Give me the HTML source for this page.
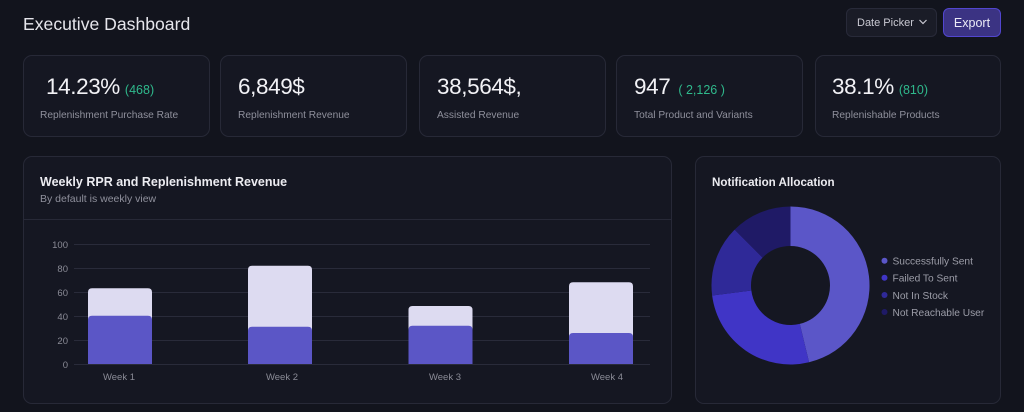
<!DOCTYPE html>
<html><head><meta charset="utf-8"><style>
*{margin:0;padding:0;box-sizing:border-box}
html,body{width:1024px;height:412px;overflow:hidden;background:#12141d;font-family:"Liberation Sans",sans-serif}
.abs{position:absolute}
.card{position:absolute;background:#151722;border:1px solid #272937;border-radius:9px}
.num{position:absolute;top:74px;font-size:22.5px;color:#f2f2f6;white-space:nowrap;letter-spacing:-0.4px}
.num span{font-size:12.5px;color:#2fb98c;margin-left:5px;letter-spacing:0}
.lbl{position:absolute;top:110px;font-size:10.2px;color:#8f909c;white-space:nowrap}
</style></head><body>
<div class="abs" style="left:23px;top:14px;font-size:17.6px;color:#e6e6ec;white-space:nowrap">Executive Dashboard</div>
<div class="abs" style="left:846px;top:8px;width:91px;height:29px;background:#1a1c27;border:1px solid #282a39;border-radius:6px"></div>
<div class="abs" style="left:857px;top:17px;font-size:11px;color:#c9c9d2;white-space:nowrap">Date Picker</div>
<svg class="abs" style="left:918px;top:18px" width="10" height="8"><path d="M1.5 2 L5 5.5 L8.5 2" fill="none" stroke="#c9c9d2" stroke-width="1.2"/></svg>
<div class="abs" style="left:943px;top:8px;width:58px;height:29px;background:#3b3383;border:1px solid #5246cf;border-radius:6px"></div>
<div class="abs" style="left:943px;top:16px;width:58px;text-align:center;font-size:12.5px;color:#ecebf7">Export</div>

<div class="card" style="left:23px;top:55px;width:187px;height:82px"></div>
<div class="card" style="left:220px;top:55px;width:187px;height:82px"></div>
<div class="card" style="left:419px;top:55px;width:187px;height:82px"></div>
<div class="card" style="left:616px;top:55px;width:187px;height:82px"></div>
<div class="card" style="left:815px;top:55px;width:186px;height:82px"></div>

<div class="num" style="left:46px">14.23%<span>(468)</span></div>
<div class="lbl" style="left:40px">Replenishment Purchase Rate</div>
<div class="num" style="left:238px">6,849$</div>
<div class="lbl" style="left:238px">Replenishment Revenue</div>
<div class="num" style="left:437px">38,564$,</div>
<div class="lbl" style="left:437px">Assisted Revenue</div>
<div class="num" style="left:634px">947<span style="margin-left:8px">( 2,126 )</span></div>
<div class="lbl" style="left:634px">Total Product and Variants</div>
<div class="num" style="left:832px">38.1%<span>(810)</span></div>
<div class="lbl" style="left:832px">Replenishable Products</div>

<div class="card" style="left:23px;top:156px;width:649px;height:248px"></div>
<div class="card" style="left:695px;top:156px;width:306px;height:248px"></div>

<svg class="abs" style="left:0;top:0" width="1024" height="412">
<line x1="24" y1="219.5" x2="671" y2="219.5" stroke="#272937" stroke-width="1"/>
<text x="40" y="186" font-size="12.5" font-weight="bold" fill="#ececf1" font-family="Liberation Sans">Weekly RPR and Replenishment Revenue</text>
<text x="40" y="202" font-size="10.5" fill="#8f909c" font-family="Liberation Sans">By default is weekly view</text>
<g stroke="#292b3a" stroke-width="1">
<line x1="74" y1="244.5" x2="650" y2="244.5"/>
<line x1="74" y1="268.5" x2="650" y2="268.5"/>
<line x1="74" y1="292.5" x2="650" y2="292.5"/>
<line x1="74" y1="316.5" x2="650" y2="316.5"/>
<line x1="74" y1="340.5" x2="650" y2="340.5"/>
<line x1="74" y1="364.5" x2="650" y2="364.5"/>
</g>
<g font-size="9.5" fill="#8a8b96" text-anchor="end" font-family="Liberation Sans">
<text x="68" y="248">100</text>
<text x="68" y="272">80</text>
<text x="68" y="296">60</text>
<text x="68" y="320">40</text>
<text x="68" y="344">20</text>
<text x="68" y="368">0</text>
</g>
<g fill="#dddbf1">
<path d="M88 364 V292.3 Q88 288.3 92 288.3 H148 Q152 288.3 152 292.3 V364 Z"/>
<path d="M248 364 V269.7 Q248 265.7 252 265.7 H308 Q312 265.7 312 269.7 V364 Z"/>
<path d="M408.5 364 V310 Q408.5 306 412.5 306 H468.5 Q472.5 306 472.5 310 V364 Z"/>
<path d="M569 364 V286.3 Q569 282.3 573 282.3 H629 Q633 282.3 633 286.3 V364 Z"/>
</g>
<g fill="#5b56c6">
<path d="M88 364 V319.7 Q88 315.7 92 315.7 H148 Q152 315.7 152 319.7 V364 Z"/>
<path d="M248 364 V330.7 Q248 326.7 252 326.7 H308 Q312 326.7 312 330.7 V364 Z"/>
<path d="M408.5 364 V329.7 Q408.5 325.7 412.5 325.7 H468.5 Q472.5 325.7 472.5 329.7 V364 Z"/>
<path d="M569 364 V337 Q569 333 573 333 H629 Q633 333 633 337 V364 Z"/>
</g>
<g font-size="9.5" fill="#8a8b96" text-anchor="middle" font-family="Liberation Sans">
<text x="119" y="380">Week 1</text>
<text x="282" y="380">Week 2</text>
<text x="445" y="380">Week 3</text>
<text x="607" y="380">Week 4</text>
</g>

<text x="712" y="186" font-size="11.6" font-weight="bold" fill="#ececf1" font-family="Liberation Sans">Notification Allocation</text>
<path d="M790.5,206.5 A79,79 0 0 1 809.07,362.29 L799.79,323.89 A39.5,39.5 0 0 0 790.5,246 Z" fill="#5b56c8"/>
<path d="M809.07,362.29 A79,79 0 0 1 712.14,295.54 L751.32,290.52 A39.5,39.5 0 0 0 799.79,323.89 Z" fill="#4035c6"/>
<path d="M712.14,295.54 A79,79 0 0 1 734.64,229.64 L762.57,257.57 A39.5,39.5 0 0 0 751.32,290.52 Z" fill="#2f2998"/>
<path d="M734.64,229.64 A79,79 0 0 1 790.5,206.5 L790.5,246 A39.5,39.5 0 0 0 762.57,257.57 Z" fill="#1f1a66"/>
<circle cx="884.5" cy="260.7" r="3" fill="#5b56c8"/>
<circle cx="884.5" cy="277.7" r="3" fill="#4035c6"/>
<circle cx="884.5" cy="295" r="3" fill="#2f2998"/>
<circle cx="884.5" cy="312" r="3" fill="#1f1a66"/>
<g font-size="10.2" fill="#9c9da8" font-family="Liberation Sans">
<text x="892.5" y="264.5">Successfully Sent</text>
<text x="892.5" y="281.5">Failed To Sent</text>
<text x="892.5" y="298.8">Not In Stock</text>
<text x="892.5" y="315.8">Not Reachable User</text>
</g>
</svg>
</body></html>
